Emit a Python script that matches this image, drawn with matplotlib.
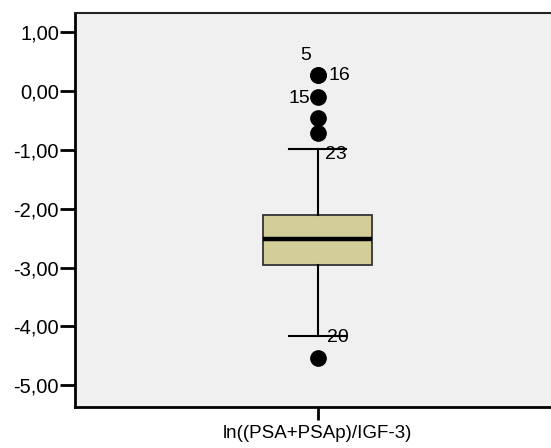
import matplotlib
matplotlib.use('Agg')
import matplotlib.pyplot as plt

plt.rcParams['font.family'] = ['Liberation Sans', 'DejaVu Sans']

# box statistics
label = 'ln((PSA+PSAp)/IGF-3)'
q1 = -2.95
med = -2.52
q3 = -2.10
whislo = -4.16
whishi = -0.99
outliers = [0.27, 0.27, -0.10, -0.45, -0.71, -4.53]

# case ids shown next to points
case_ids = ['5', '16', '15', '23', '20']
case_vals = [0.27, 0.27, -0.10, -0.99, -4.16]
case_offsets = [(-12, 20, 'center'), (11, 0, 'left'), (-8, -1, 'right'),
                (7, -5, 'left'), (9, -2, 'left')]

yticks = [1, 0, -1, -2, -3, -4, -5]
yticklabels = ['1,00', '0,00', '-1,00', '-2,00', '-3,00', '-4,00', '-5,00']

fig = plt.figure(figsize=(5.51, 4.48), dpi=100)
ax = fig.add_axes([75 / 551, 41 / 448, 476 / 551, 394 / 448])
ax.set_facecolor('#f0f0f0')

stats = [dict(med=med, q1=q1, q3=q3, whislo=whislo, whishi=whishi,
              fliers=outliers, label=label)]
ax.bxp(stats, positions=[1], widths=0.5, patch_artist=True,
       capwidths=0.26,
       boxprops=dict(facecolor='#d3ce97', edgecolor='#333333', linewidth=1.3),
       medianprops=dict(color='black', linewidth=3.2),
       whiskerprops=dict(color='black', linewidth=1.5),
       capprops=dict(color='black', linewidth=1.5),
       flierprops=dict(marker='o', markerfacecolor='black',
                       markeredgecolor='black', markersize=11))

for cid, v, (dx, dy, ha) in zip(case_ids, case_vals, case_offsets):
    ax.annotate(cid, (1, v), xytext=(dx, dy), textcoords='offset pixels',
                ha=ha, va='center', fontsize=14)

w = 0.5 * 476 / 109
ax.set_xlim(1 - 0.51 * w, 1 + 0.49 * w)
ax.set_ylim(-5.37, 1.33)
ax.set_yticks(yticks)
ax.set_yticklabels(yticklabels, fontsize=14.5)
ax.tick_params(axis='y', length=11, width=2, direction='out', pad=0.5)
ax.tick_params(axis='x', length=9, width=2, direction='out', labelsize=13.5,
               pad=4)

for s in ['left', 'bottom']:
    ax.spines[s].set_linewidth(2)
ax.spines['top'].set_linewidth(1.5)
ax.spines['top'].set_color('#222222')
ax.spines['right'].set_visible(False)

fig.savefig('out.png', dpi=100)
